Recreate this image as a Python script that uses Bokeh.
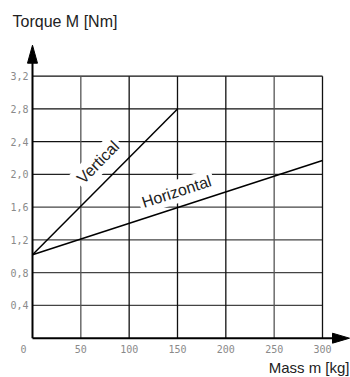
from bokeh.plotting import figure
from bokeh.models import Range1d, Label
from bokeh.core.properties import value
from bokeh.embed import file_html
from bokeh.resources import INLINE

# ---- data ----
mass_ticks = [50, 100, 150, 200, 250, 300]
mass_tick_labels = ["50", "100", "150", "200", "250", "300"]
torque_ticks = [0.4, 0.8, 1.2, 1.6, 2.0, 2.4, 2.8, 3.2]
torque_tick_labels = ["0,4", "0,8", "1,2", "1,6", "2,0", "2,4", "2,8", "3,2"]

vertical_mass = [0, 150]
vertical_torque = [1.02, 2.8]
horizontal_mass = [0, 300]
horizontal_torque = [1.02, 2.17]

# ---- styles ----
mass_grid_colors = ["#555555", "#111111", "#111111", "#111111", "#555555", "#111111"]
torque_grid_colors = ["#444444", "#444444", "#444444", "#444444", "#222222", "#111111", "#111111", "#111111"]

W, H = 350, 377
X0, X1 = -33.10, 328.97
Y0, Y1 = -0.480, 4.1246
px_x = (X1 - X0) / W   # data per pixel
px_y = (Y1 - Y0) / H

p = figure(width=W, height=H, x_range=Range1d(X0, X1), y_range=Range1d(Y0, Y1),
           x_axis_type=None, y_axis_type=None, toolbar_location=None,
           output_backend="svg", min_border=0, outline_line_color=None)
p.xgrid.visible = False
p.ygrid.visible = False

xmax = mass_ticks[-1]
ymax = torque_ticks[-1]

# grid
p.segment(x0=[0] * len(torque_ticks), y0=torque_ticks, x1=[xmax] * len(torque_ticks), y1=torque_ticks,
          line_color=torque_grid_colors, line_width=1.3)
p.segment(x0=mass_ticks, y0=[0] * len(mass_ticks), x1=mass_ticks, y1=[ymax] * len(mass_ticks),
          line_color=mass_grid_colors, line_width=1.3)

# axes with arrows
y_tip = ymax + 31 * px_y
x_tip = X1 - 1 * px_x
p.line([0, 0], [0, y_tip - 10 * px_y], line_color="black", line_width=2)
p.line([0, x_tip - 10 * px_x], [0, 0], line_color="black", line_width=2)
p.patch([-5 * px_x, 5 * px_x, 0], [y_tip - 18 * px_y, y_tip - 18 * px_y, y_tip], color="black")
p.patch([x_tip - 17 * px_x, x_tip - 17 * px_x, x_tip], [-5 * px_y, 5 * px_y, 0], color="black")

# data lines
p.line(vertical_mass, vertical_torque, line_color="black", line_width=1.5)
p.line(horizontal_mass, horizontal_torque, line_color="black", line_width=1.5)

# tick labels
mono = value("DejaVu Sans Mono")
p.text(x=[0] * len(torque_ticks), y=torque_ticks, text=torque_tick_labels, x_offset=-4,
       text_align="right", text_baseline="middle", text_font=mono,
       text_font_size="10px", text_color="#8a8a8a")
p.text(x=mass_ticks, y=[0] * len(mass_ticks), text=mass_tick_labels, y_offset=11,
       text_align="center", text_baseline="middle", text_font=mono,
       text_font_size="10px", text_color="#8a8a8a")
p.text(x=[0], y=[0], text=["0"], x_offset=-9, y_offset=11,
       text_align="center", text_baseline="middle", text_font=mono,
       text_font_size="10px", text_color="#8a8a8a")

sans = "Liberation Sans"
# curve labels
p.add_layout(Label(x=67.8, y=2.15, text="Vertical", angle=45.5, angle_units="deg",
                   text_align="center", text_baseline="middle", text_font=sans,
                   text_font_size="16px", text_color="#222222",
                   background_fill_color="white", padding=3))
p.add_layout(Label(x=149, y=1.79, text="Horizontal", angle=18, angle_units="deg",
                   text_align="center", text_baseline="middle", text_font=sans,
                   text_font_size="16px", text_color="#222222",
                   background_fill_color="white", padding=3))

# axis titles
p.add_layout(Label(x=X0 + 12 * px_x, y=Y1 - 21 * px_y, text="Torque  M [Nm]",
                   text_align="left", text_baseline="middle", text_font=sans,
                   text_font_size="16px", text_color="#222222"))
p.add_layout(Label(x=X1 - 1 * px_x, y=Y1 - 367 * px_y, text="Mass m [kg]",
                   text_align="right", text_baseline="middle", text_font=sans,
                   text_font_size="15px", text_color="#222222"))

open("out.html", "w").write(file_html(p, INLINE))
